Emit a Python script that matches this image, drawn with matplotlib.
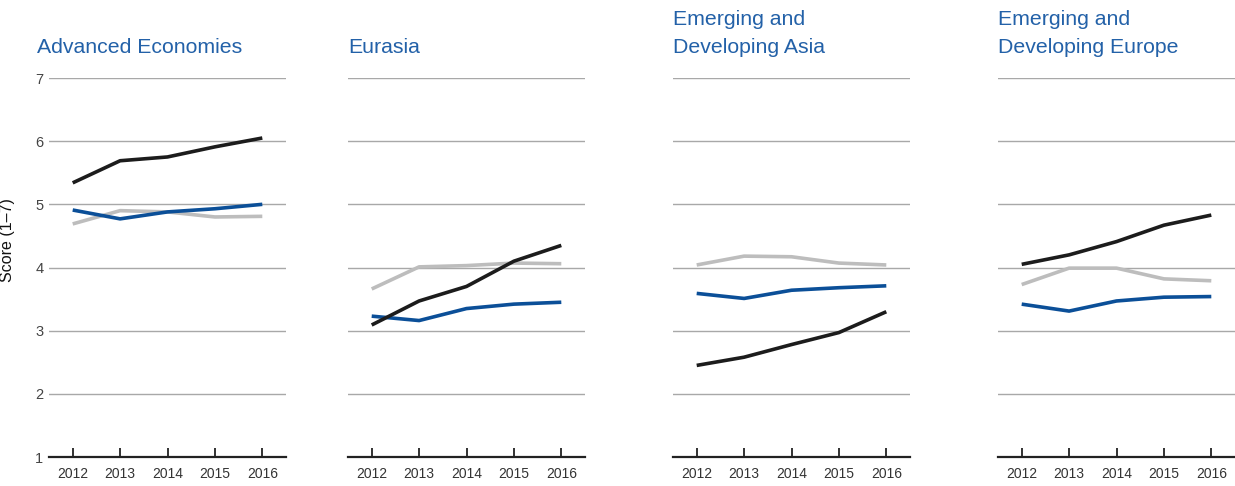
import matplotlib
matplotlib.use('Agg')
import matplotlib.pyplot as plt

# ─── data ────────────────────────────────────────────────────────────────────
years = [2012, 2013, 2014, 2015, 2016]
regions = ['Advanced Economies', 'Eurasia',
           'Emerging and\nDeveloping Asia', 'Emerging and\nDeveloping Europe']

# one list per region, for each of the three series
gray_vals = [
    [4.69, 4.90, 4.88, 4.80, 4.81],
    [3.66, 4.01, 4.03, 4.07, 4.06],
    [4.04, 4.18, 4.17, 4.07, 4.04],
    [3.73, 3.99, 3.99, 3.82, 3.79],
]
blue_vals = [
    [4.91, 4.77, 4.88, 4.93, 5.00],
    [3.23, 3.16, 3.35, 3.42, 3.45],
    [3.59, 3.51, 3.64, 3.68, 3.71],
    [3.42, 3.31, 3.47, 3.53, 3.54],
]
black_vals = [
    [5.34, 5.69, 5.75, 5.91, 6.05],
    [3.09, 3.47, 3.70, 4.10, 4.35],
    [2.45, 2.58, 2.78, 2.97, 3.30],
    [4.05, 4.20, 4.41, 4.67, 4.83],
]
y_ticks = [1, 2, 3, 4, 5, 6, 7]

# ─── style ───────────────────────────────────────────────────────────────────
plt.rcParams['font.family'] = ['Liberation Sans', 'DejaVu Sans']
TITLE_C = '#2361a8'
GRAY_C = '#bdbdbd'
BLUE_C = '#0b4f98'
BLACK_C = '#1c1c1c'
GRID_C = '#a8a8a8'

W, H = 1235, 486
fig = plt.figure(figsize=(W / 100, H / 100), dpi=100)

lefts_px = [49, 348, 673, 998]
title_px = [37, 348, 673, 998]
ax_w = 237 / W
ax_b = 1 - 457 / H
ax_h = (457 - 78) / H

for i, left in enumerate(lefts_px):
    ax = fig.add_axes([left / W, ax_b, ax_w, ax_h])
    ax.set_xlim(2011.5, 2016.5)
    ax.set_ylim(1, 7)
    for v in y_ticks[1:]:
        ax.axhline(v, color=GRID_C, lw=1.0, zorder=1)
    ax.plot(years, gray_vals[i], color=GRAY_C, lw=2.6, zorder=3,
            solid_capstyle='butt')
    ax.plot(years, blue_vals[i], color=BLUE_C, lw=2.6, zorder=4,
            solid_capstyle='butt')
    ax.plot(years, black_vals[i], color=BLACK_C, lw=2.6, zorder=5,
            solid_capstyle='butt')

    for s in ['top', 'right', 'left']:
        ax.spines[s].set_visible(False)
    ax.spines['bottom'].set_color('#222222')
    ax.spines['bottom'].set_linewidth(1.6)
    ax.spines['bottom'].set_zorder(6)

    ax.set_xticks(years)
    ax.set_xticklabels([str(y) for y in years])
    ax.tick_params(axis='x', direction='in', length=6.5, width=1.3,
                   color='#222222', labelsize=10, labelcolor='#333333', pad=7)
    ax.set_yticks(y_ticks)
    if i == 0:
        ax.tick_params(axis='y', length=0, labelsize=10.5,
                       labelcolor='#444444', pad=4)
        ax.set_ylabel('Score (1–7)', fontsize=11.5, color='#111111')
        # label sits a bit above the axes centre in the reference
        ax.yaxis.set_label_coords(-0.143, 0.573)
    else:
        ax.tick_params(axis='y', length=0, labelleft=False)

    # titles, one text per line
    lines = regions[i].split('\n')
    for k, line in enumerate(reversed(lines)):
        fig.text(title_px[i] / W, 1 - (53 - 28 * k) / H, line,
                 fontsize=15.3, color=TITLE_C, ha='left', va='baseline')

fig.savefig('out.png', dpi=100)
